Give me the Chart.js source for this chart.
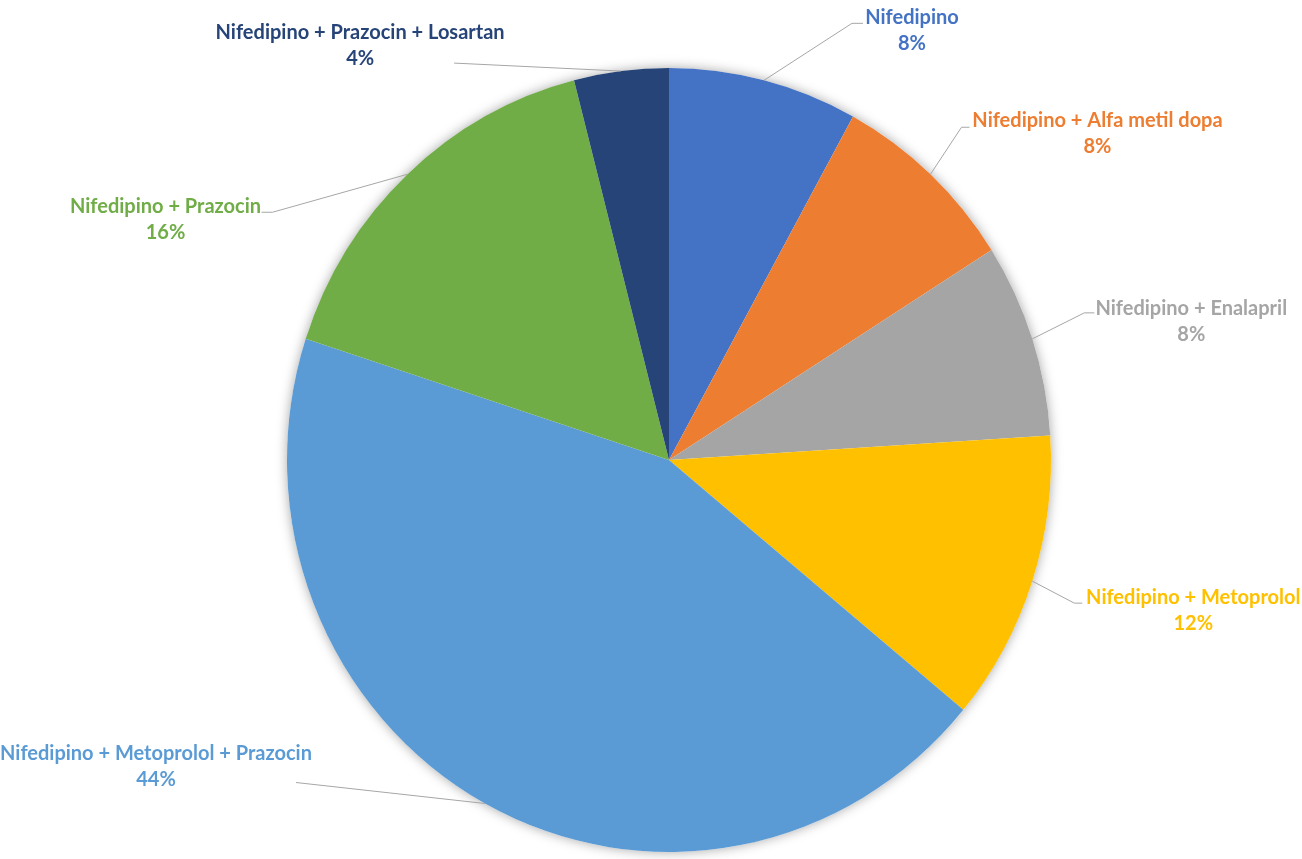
<!DOCTYPE html>
<html>
<head>
<meta charset="utf-8">
<script src="https://cdn.jsdelivr.net/npm/chart.js@4/dist/chart.umd.min.js"></script>
<style>
  html, body { margin: 0; padding: 0; background: #fff; }
  canvas { display: block; }
</style>
</head>
<body>
<canvas id="chart" width="1302" height="859"></canvas>
<script>
const categories = [
  'Nifedipino',
  'Nifedipino + Alfa metil dopa',
  'Nifedipino + Enalapril',
  'Nifedipino + Metoprolol',
  'Nifedipino + Metoprolol + Prazocin',
  'Nifedipino + Prazocin',
  'Nifedipino + Prazocin + Losartan'
];
const percentages = [8, 8, 8, 12, 44, 16, 4];
const sliceColors = ['#4472C4', '#ED7D31', '#A5A5A5', '#FFC000', '#5B9BD5', '#70AD47', '#264478'];

// where each label sits relative to its slice's outer mid point,
// and where the leader line ends relative to the label centre
const labelPlacement = [
  { dx: 148, dy: -50, ex: -49, ey: -7, elbow: -11 },
  { dx: 167, dy: -41, ex: -128, ey: -6, elbow: -8 },
  { dx: 159, dy: -18, ex: -97, ey: -8, elbow: -10 },
  { dx: 161, dy: 29, ex: -111, ey: -7, elbow: -8 },
  { dx: -329, dy: -38, ex: 140, ey: 17, elbow: 0 },
  { dx: -242, dy: 45, ex: 96, ey: -7, elbow: 11 },
  { dx: -261, dy: -26, ex: 94, ey: 18, elbow: 0 }
];

const yStretch = 392 / 382; // the source picture is slightly taller than wide

const pieExtras = {
  id: 'pieExtras',
  beforeDatasetsDraw(chart) {
    const ctx = chart.ctx;
    const arc = chart.getDatasetMeta(0).data[0];
    ctx.save();
    // soft shadow round the pie
    ctx.shadowColor = 'rgba(0,0,0,0.35)';
    ctx.shadowBlur = 12;
    ctx.fillStyle = '#fff';
    ctx.beginPath();
    ctx.ellipse(arc.x, arc.y, arc.outerRadius, arc.outerRadius * yStretch, 0, 0, Math.PI * 2);
    ctx.fill();
    ctx.restore();
    ctx.save();
    ctx.translate(arc.x, arc.y);
    ctx.scale(1, yStretch);
    ctx.translate(-arc.x, -arc.y);
  },
  afterDatasetsDraw(chart) {
    chart.ctx.restore();
  },
  afterDraw(chart) {
    const ctx = chart.ctx;
    const meta = chart.getDatasetMeta(0);
    ctx.save();
    ctx.font = 'bold 20px Lato, "Open Sans", sans-serif';
    ctx.textAlign = 'center';
    ctx.textBaseline = 'alphabetic';
    meta.data.forEach((arc, i) => {
      const p = labelPlacement[i];
      const mid = (arc.startAngle + arc.endAngle) / 2;
      const ax = arc.x + arc.outerRadius * Math.cos(mid);
      const ay = arc.y + arc.outerRadius * yStretch * Math.sin(mid);
      const lx = ax + p.dx;
      const ly = ay + p.dy;
      const endX = lx + p.ex;
      const endY = ly + p.ey;

      ctx.strokeStyle = '#A6A6A6';
      ctx.lineWidth = 1;
      ctx.beginPath();
      ctx.moveTo(ax, ay);
      ctx.lineTo(endX + p.elbow, endY);
      ctx.lineTo(endX, endY);
      ctx.stroke();

      ctx.fillStyle = sliceColors[i];
      ctx.fillText(categories[i], lx, ly - 13 + 7);
      ctx.fillText(percentages[i] + '%', lx, ly + 13 + 7);
    });
    ctx.restore();
  }
};

new Chart(document.getElementById('chart'), {
  type: 'pie',
  data: {
    labels: categories,
    datasets: [{
      data: percentages,
      backgroundColor: sliceColors,
      borderWidth: 0,
      hoverOffset: 0,
      clip: false
    }]
  },
  options: {
    responsive: false,
    animation: false,
    layout: { padding: { top: 78, bottom: 17, left: 287, right: 251 } },
    plugins: {
      legend: { display: false },
      tooltip: { enabled: false }
    }
  },
  plugins: [pieExtras]
});
</script>
</body>
</html>
